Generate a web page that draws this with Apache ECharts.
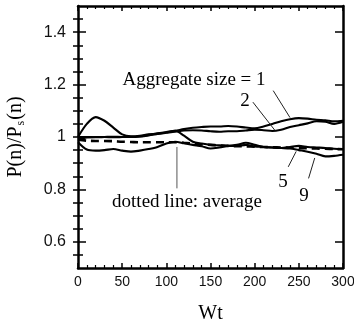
<!DOCTYPE html>
<html>
<head>
<meta charset="utf-8">
<script src="https://cdn.jsdelivr.net/npm/echarts@6/dist/echarts.min.js"></script>
<style>
  html, body { margin: 0; padding: 0; background: #fff; }
  #chart { width: 354px; height: 322px; }
</style>
</head>
<body>
<div id="chart"></div>
<script>
// Wt sample points (every 10)
const wt = [0, 10, 20, 30, 40, 50, 60, 70, 80, 90, 100, 110, 120, 130, 140, 150,
            160, 170, 180, 190, 200, 210, 220, 230, 240, 250, 260, 270, 280, 290, 300];

// P(n)/Ps(n) per aggregate size
const size1 = [1.0, 1.0, 0.999, 1.0, 1.001, 1.0, 1.0, 1.002, 1.008, 1.014, 1.019, 1.024, 1.03, 1.035, 1.038, 1.04,
               1.04, 1.042, 1.04, 1.036, 1.033, 1.04, 1.05, 1.06, 1.068, 1.072, 1.07, 1.066, 1.064, 1.06, 1.062];
const size2 = [1.0, 1.05, 1.076, 1.062, 1.036, 1.01, 1.003, 1.005, 1.01, 1.012, 1.016, 1.02, 1.025, 1.026, 1.025, 1.022,
               1.02, 1.022, 1.022, 1.025, 1.028, 1.026, 1.023, 1.028, 1.038, 1.045, 1.052, 1.06, 1.058, 1.05, 1.058];
const size5 = [0.99, 0.998, 1.0, 1.0, 0.999, 1.0, 1.001, 1.002, 1.006, 1.012, 1.017, 1.024, 1.005, 0.982, 0.975, 0.97,
               0.968, 0.966, 0.966, 0.97, 0.964, 0.962, 0.96, 0.958, 0.962, 0.966, 0.962, 0.96, 0.958, 0.955, 0.954];
const size9 = [0.98, 0.952, 0.948, 0.95, 0.954, 0.948, 0.944, 0.948, 0.954, 0.962, 0.975, 0.982, 0.976, 0.97, 0.965, 0.956,
               0.96, 0.966, 0.97, 0.978, 0.97, 0.962, 0.96, 0.958, 0.956, 0.95, 0.944, 0.936, 0.926, 0.928, 0.932];
const average = [0.99, 0.986, 0.985, 0.985, 0.984, 0.982, 0.981, 0.98, 0.98, 0.98, 0.98, 0.98, 0.978, 0.975, 0.972, 0.97,
                 0.968, 0.966, 0.965, 0.964, 0.963, 0.962, 0.961, 0.96, 0.959, 0.958, 0.957, 0.956, 0.955, 0.954, 0.953];

// pointer lines from labels to curves: [[Wt, value], [Wt, value]]
const pointer1 = [[221, 1.177], [240, 1.074]];
const pointer2 = [[198, 1.133], [223, 1.025]];
const pointer5 = [[238, 0.886], [247, 0.945]];
const pointer9 = [[261, 0.842], [268, 0.92]];
const pointerAvg = [[112, 0.804], [112, 0.962]];

// axis ticks
const yLabelTicks = [0.6, 0.8, 1, 1.2, 1.4];
const yMinorTicks = [0.55, 0.6, 0.65, 0.7, 0.75, 0.8, 0.85, 0.9, 0.95, 1, 1.05, 1.1, 1.15, 1.2, 1.25, 1.3, 1.35, 1.4, 1.45];

const pair = (ys) => wt.map((x, i) => [x, ys[i]]);

const chart = echarts.init(document.getElementById("chart"));

const frameLine = { show: true, onZero: false, lineStyle: { color: "#000", width: 2.5 } };
const serif = "Liberation Serif";
const sans = "Liberation Sans";

function curve(ys, dashed) {
    return {
        type: "line",
        data: pair(ys),
        showSymbol: false,
        smooth: 0.3,
        silent: true,
        lineStyle: dashed
            ? { color: "#000", width: 2.6, type: [8, 5] }
            : { color: "#000", width: 2.1 },
        z: dashed ? 3 : 2,
    };
}

function pointer(pts, color) {
    return {
        type: "line",
        data: pts,
        showSymbol: false,
        silent: true,
        lineStyle: { color: color || "#222", width: 1 },
    };
}

function note(text, x, y) {
    return {
        type: "text", x: x, y: y,
        style: { text: text, font: "19px " + serif, fill: "#000", align: "center", verticalAlign: "middle" },
    };
}

chart.setOption({
    animation: false,
    grid: { left: 78, right: 11, top: 6, bottom: 54, outerBoundsMode: "none" },
    xAxis: [
        {
            type: "value", min: 0, max: 300, interval: 50, position: "bottom",
            axisLine: frameLine,
            axisTick: { inside: true, length: 5, lineStyle: { color: "#000", width: 1.5 } },
            minorTick: { show: true, splitNumber: 5, length: 3, lineStyle: { color: "#000", width: 1.2 } },
            splitLine: { show: false },
            axisLabel: { fontFamily: sans, fontSize: 14, color: "#111", margin: 7 },
            name: "Wt", nameLocation: "middle", nameGap: 36,
            nameTextStyle: { fontFamily: serif, fontSize: 20, color: "#000" },
        },
        {
            type: "value", min: 0, max: 300, interval: 50, position: "top",
            axisLine: frameLine,
            axisTick: { inside: true, length: 5, lineStyle: { color: "#000", width: 1.5 } },
            minorTick: { show: true, splitNumber: 5, length: 3, lineStyle: { color: "#000", width: 1.2 } },
            splitLine: { show: false },
            axisLabel: { show: false },
        },
    ],
    yAxis: [
        {
            type: "value", min: 0.5, max: 1.5, position: "left",
            axisLine: frameLine,
            axisTick: { inside: true, length: 8, customValues: yLabelTicks, lineStyle: { color: "#000", width: 1.5 } },
            splitLine: { show: false },
            axisLabel: { customValues: yLabelTicks, fontFamily: sans, fontSize: 16, color: "#111", margin: 12 },
            name: "{a|P(n)/P}{s|s}{a|(n)}", nameLocation: "middle", nameGap: 51, nameRotate: 90,
            nameTextStyle: {
                color: "#000",
                rich: {
                    a: { fontFamily: serif, fontSize: 20, color: "#000" },
                    s: { fontFamily: serif, fontSize: 12, color: "#000", padding: [10, 1, 0, 1] },
                },
            },
        },
        {
            type: "value", min: 0.5, max: 1.5, position: "left",
            axisLine: { show: false },
            axisTick: { inside: true, length: 5, customValues: yMinorTicks, lineStyle: { color: "#000", width: 1.5 } },
            splitLine: { show: false },
            axisLabel: { show: false },
        },
        {
            type: "value", min: 0.5, max: 1.5, position: "right",
            axisLine: frameLine,
            axisTick: { inside: true, length: 8, customValues: yLabelTicks, lineStyle: { color: "#000", width: 1.5 } },
            splitLine: { show: false },
            axisLabel: { show: false },
        },
        {
            type: "value", min: 0.5, max: 1.5, position: "right",
            axisLine: { show: false },
            axisTick: { inside: true, length: 5, customValues: yMinorTicks, lineStyle: { color: "#000", width: 1.5 } },
            splitLine: { show: false },
            axisLabel: { show: false },
        },
    ],
    series: [
        curve(size1),
        curve(size2),
        curve(size5),
        curve(size9),
        curve(average, true),
        pointer(pointer1),
        pointer(pointer2),
        pointer(pointer5),
        pointer(pointer9),
        pointer(pointerAvg, "#555"),
    ],
    graphic: [
        note("Aggregate size = 1", 194, 80),
        note("2", 245, 101),
        note("5", 283, 182),
        note("9", 304, 196),
        note("dotted line: average", 187, 202),
    ],
});
</script>
</body>
</html>
